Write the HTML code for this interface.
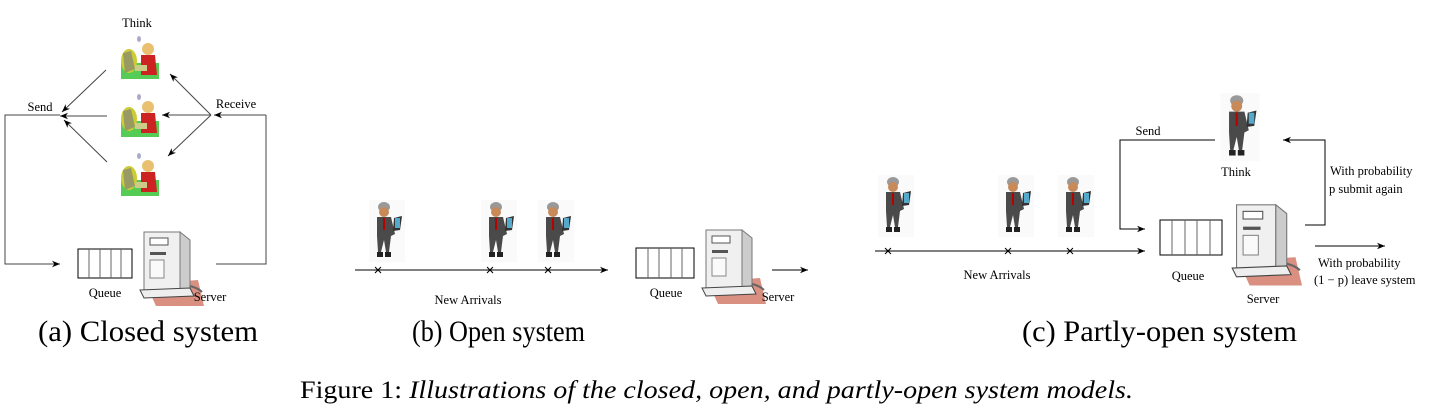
<!DOCTYPE html>
<html><head><meta charset="utf-8"><style>
html,body{margin:0;padding:0;background:#fff;}
svg{display:block;}
text{font-family:"Liberation Serif",serif;fill:#000;}
</style></head><body>
<svg width="1452" height="418" viewBox="0 0 1452 418" xmlns="http://www.w3.org/2000/svg">
<defs>
<marker id="ah" viewBox="0 0 10 10" refX="10" refY="5" markerWidth="10" markerHeight="8" orient="auto" markerUnits="userSpaceOnUse"><path d="M0,1 L10,5 L0,9 L3,5 z" fill="#000" stroke="none"/></marker>
<symbol id="man" viewBox="0 0 36 62">
<rect width="36" height="62" fill="#fafafa"/>
<ellipse cx="15" cy="7" rx="6" ry="5" fill="#999"/>
<ellipse cx="15" cy="12" rx="5" ry="5" fill="#c98a5a"/>
<path d="M8,17 L22,17 L26,34 L22,36 L20,52 L17,52 L15,40 L12,52 L9,52 L8,36 z" fill="#4a4a4a"/>
<rect x="14" y="18" width="2" height="12" fill="#b00"/>
<path d="M25,18 L33,16 L31,30 L24,31 z" fill="#333"/>
<rect x="26" y="18" width="5" height="10" fill="#5ac"/>
<rect x="8" y="52" width="6" height="5" fill="#222"/><rect x="16" y="52" width="6" height="5" fill="#222"/>
</symbol>
<symbol id="woman" viewBox="0 0 38 44">
<rect width="38" height="44" fill="#fff"/>
<ellipse cx="18" cy="4" rx="2" ry="3" fill="#aac"/>
<path d="M0,28 L38,28 L38,44 L0,44 z" fill="#5c5"/>
<ellipse cx="8" cy="26" rx="8" ry="12" fill="#cc3"/>
<path d="M2,18 L10,16 L14,34 L4,38 z" fill="#996"/>
<ellipse cx="27" cy="14" rx="6" ry="6" fill="#e8c070"/>
<path d="M20,20 L34,20 L36,40 L20,40 z" fill="#c22"/>
<rect x="14" y="30" width="12" height="6" fill="#cc8"/>
</symbol>
<symbol id="server" viewBox="0 0 66 78">
<path d="M8,56 L60,52 L66,78 L18,78 z" fill="#d99080"/>
<rect x="6" y="4" width="36" height="58" fill="#f0f0f0" stroke="#777"/>
<path d="M42,4 L52,12 L52,60 L42,62 z" fill="#ccc" stroke="#777"/>
<rect x="12" y="10" width="18" height="7" fill="#fff" stroke="#555"/>
<rect x="12" y="24" width="16" height="3" fill="#555"/>
<rect x="12" y="32" width="14" height="18" fill="#fafafa" stroke="#888"/>
<path d="M2,62 L52,60 L56,68 L6,70 z" fill="#eee" stroke="#444"/>
<path d="M52,58 Q60,60 64,64" stroke="#666" fill="none" stroke-width="2"/>
</symbol>
</defs>
<use href="#woman" x="121" y="35" width="38" height="44"/>
<use href="#woman" x="121" y="93" width="38" height="44"/>
<use href="#woman" x="121" y="152" width="38" height="44"/>
<use href="#server" x="138" y="228" width="66" height="78"/>
<use href="#man" x="369" y="200" width="36" height="62"/>
<use href="#man" x="481" y="200" width="36" height="62"/>
<use href="#man" x="538" y="200" width="36" height="62"/>
<use href="#server" x="700" y="226" width="66" height="78"/>
<use href="#man" x="878" y="174" width="36" height="64"/>
<use href="#man" x="998" y="174" width="36" height="64"/>
<use href="#man" x="1058" y="174" width="36" height="64"/>
<use href="#man" x="1220" y="93" width="40" height="68"/>
<use href="#server" x="1230" y="200" width="72" height="86"/>
<g stroke="#000" stroke-width="1" fill="none">
<path d="M106,70 L62,112" marker-end="url(#ah)" stroke="#444"/>
<path d="M107,116 L60,116" marker-end="url(#ah)" stroke="#444"/>
<path d="M107,162 L64,120" marker-end="url(#ah)" stroke="#444"/>
<path d="M211,115 L170,74" marker-end="url(#ah)" stroke="#444"/>
<path d="M211,115 L162,115" marker-end="url(#ah)" stroke="#444"/>
<path d="M211,115 L168,156" marker-end="url(#ah)" stroke="#444"/>
<path d="M266,115 L214,115" marker-end="url(#ah)" stroke="#444"/>
<path d="M60,115 L5,115 L5,264 L60,264" marker-end="url(#ah)" stroke="#444"/>
<path d="M216,264 L266,264 L266,115" stroke="#444"/>
<rect x="78" y="249" width="54" height="29"/>
<path d="M89,249V278M100,249V278M111,249V278M121,249V278" stroke="#666"/>
<path d="M355,270 L608,270" marker-end="url(#ah)"/>
<path d="M375,267l6,6M381,267l-6,6M487,267l6,6M493,267l-6,6M545,267l6,6M551,267l-6,6"/>
<rect x="636" y="248" width="58" height="30"/>
<path d="M648,248V278M659,248V278M671,248V278M682,248V278" stroke="#666"/>
<path d="M772,270 L808,270" marker-end="url(#ah)"/>
<path d="M875,251 L1145,251" marker-end="url(#ah)"/>
<path d="M885,248l6,6M891,248l-6,6M1005,248l6,6M1011,248l-6,6M1067,248l6,6M1073,248l-6,6"/>
<path d="M1215,140 L1120,140 L1120,229 L1145,229" marker-end="url(#ah)"/>
<rect x="1160" y="220" width="62" height="35"/>
<path d="M1172,220V255M1185,220V255M1197,220V255M1210,220V255" stroke="#666"/>
<path d="M1305,225 L1325,225 L1325,140 L1283,140" marker-end="url(#ah)"/>
<path d="M1315,246 L1385,246" marker-end="url(#ah)"/>
</g>
<g font-size="12.5">
<text x="137" y="27" text-anchor="middle">Think</text>
<text x="40" y="111" text-anchor="middle">Send</text>
<text x="236" y="108" text-anchor="middle">Receive</text>
<text x="105" y="297" text-anchor="middle">Queue</text>
<text x="210" y="301" text-anchor="middle">Server</text>
<text x="468" y="304" text-anchor="middle">New Arrivals</text>
<text x="666" y="297" text-anchor="middle">Queue</text>
<text x="778" y="301" text-anchor="middle">Server</text>
<text x="1148" y="135" text-anchor="middle">Send</text>
<text x="1236" y="176" text-anchor="middle">Think</text>
<text x="1330" y="175">With probability</text>
<text x="1329" y="193">p submit again</text>
<text x="997" y="279" text-anchor="middle">New Arrivals</text>
<text x="1188" y="280" text-anchor="middle">Queue</text>
<text x="1263" y="303" text-anchor="middle">Server</text>
<text x="1318" y="267">With probability</text>
<text x="1314" y="284">(1 − p) leave system</text>
</g>
<g font-size="30">
<text x="38" y="341" textLength="220" lengthAdjust="spacingAndGlyphs">(a) Closed system</text>
<text x="412" y="341" textLength="173" lengthAdjust="spacingAndGlyphs">(b) Open system</text>
<text x="1022" y="341" textLength="275" lengthAdjust="spacingAndGlyphs">(c) Partly-open system</text>
</g>
<text x="300" y="398" font-size="25" textLength="833" lengthAdjust="spacingAndGlyphs">Figure 1: <tspan font-style="italic">Illustrations of the closed, open, and partly-open system models.</tspan></text>
</svg>
</body></html>
